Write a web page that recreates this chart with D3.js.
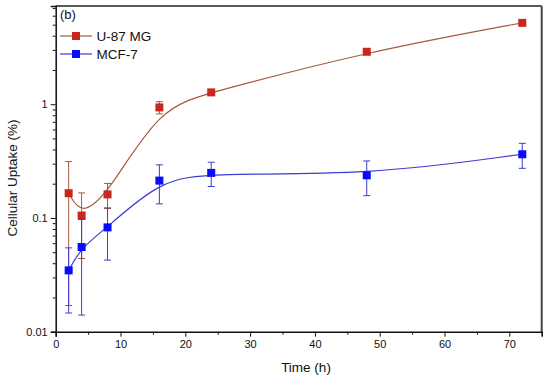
<!DOCTYPE html>
<html>
<head>
<meta charset="utf-8">
<script src="https://cdn.jsdelivr.net/npm/d3@7"></script>
<style>
  body { margin: 0; background: #fff; }
  svg { display: block; font-family: "Liberation Sans", Arial, sans-serif; }
</style>
</head>
<body>
<div id="chart"></div>
<script>
// values
const timeH = [2, 4, 8, 16, 24, 48, 72];
const u87Uptake = [0.165, 0.105, 0.161, 0.937, 1.27, 2.89, 5.19];
const u87Err = [0.148, 0.061, 0.04, 0.115, 0.05, 0.1, 0.2];
const mcf7Uptake = [0.0346, 0.0555, 0.0826, 0.213, 0.249, 0.237, 0.363];
const mcf7Err = [0.02, 0.0415, 0.04, 0.08, 0.06, 0.08, 0.09];

const xMajorTicks = [0, 10, 20, 30, 40, 50, 60, 70];
const xMinorTicks = [5, 15, 25, 35, 45, 55, 65, 75];
const yMajorTicks = [0.01, 0.1, 1];
const yTickLabels = ["0.01", "0.1", "1"];
const yMinorTicks = [0.02, 0.03, 0.04, 0.05, 0.06, 0.07, 0.08, 0.09,
                     0.2, 0.3, 0.4, 0.5, 0.6, 0.7, 0.8, 0.9,
                     2, 3, 4, 5, 6, 7];

const seriesNames = ["U-87 MG", "MCF-7"];

function init() {
    var w = 550, h = 379;
    var left = 55.7, right = 541.7, top = 6, bottom = 331.7;

    var svg = d3.select("#chart").append("svg")
        .attr("width", w)
        .attr("height", h);

    var xScale = d3.scaleLinear().domain([0, 75]).range([left, right]);
    var yScale = d3.scaleLog().domain([0.01, 7.3]).range([bottom, top]);

    var series = [
        { name: seriesNames[0], y: u87Uptake, err: u87Err, fill: "#c8281c", line: "#a8583a" },
        { name: seriesNames[1], y: mcf7Uptake, err: mcf7Err, fill: "#0a0aff", line: "#3c3cd2" }
    ];

    // frame: top and right
    svg.append("line")
        .attr("x1", left).attr("x2", right).attr("y1", top).attr("y2", top)
        .attr("stroke", "#222").attr("stroke-width", 1.3);
    svg.append("line")
        .attr("x1", right).attr("x2", right).attr("y1", top).attr("y2", bottom)
        .attr("stroke", "#444").attr("stroke-width", 2);

    // curves (B-spline in screen space like Origin)
    var line = d3.line()
        .x((d, i) => xScale(timeH[i]))
        .y(d => yScale(d))
        .curve(d3.curveBasis);

    series.forEach(function (s) {
        var g = svg.append("g");
        g.append("path")
            .datum(s.y)
            .attr("d", line)
            .attr("fill", "none")
            .attr("stroke", s.line)
            .attr("stroke-width", 1.2);

        // error bars
        var eb = g.selectAll(".eb")
            .data(s.y)
            .enter()
            .append("g");
        eb.append("line")
            .attr("x1", (d, i) => xScale(timeH[i]))
            .attr("x2", (d, i) => xScale(timeH[i]))
            .attr("y1", (d, i) => yScale(d + s.err[i]))
            .attr("y2", (d, i) => yScale(Math.max(d - s.err[i], 0.0101)))
            .attr("stroke", s.line).attr("stroke-width", 1);
        [1, -1].forEach(function (sign) {
            eb.append("line")
                .attr("x1", (d, i) => xScale(timeH[i]) - 3.5)
                .attr("x2", (d, i) => xScale(timeH[i]) + 3.5)
                .attr("y1", (d, i) => yScale(Math.max(d + sign * s.err[i], 0.0101)))
                .attr("y2", (d, i) => yScale(Math.max(d + sign * s.err[i], 0.0101)))
                .attr("stroke", s.line).attr("stroke-width", 1);
        });

        // markers
        g.selectAll("rect")
            .data(s.y)
            .enter()
            .append("rect")
            .attr("x", (d, i) => xScale(timeH[i]) - 4)
            .attr("y", d => yScale(d) - 4)
            .attr("width", 8)
            .attr("height", 8)
            .attr("fill", s.fill);
    });

    // x axis
    var xAxis = d3.axisBottom(xScale)
        .tickValues(xMajorTicks)
        .tickSize(5)
        .tickPadding(4)
        .tickFormat(d3.format("d"));
    svg.append("g")
        .attr("transform", "translate(0," + bottom + ")")
        .call(xAxis);
    svg.append("g")
        .attr("transform", "translate(0," + bottom + ")")
        .call(d3.axisBottom(xScale).tickValues(xMinorTicks).tickSize(3).tickFormat(""))
        .select(".domain").remove();

    // y axis
    var yAxis = d3.axisLeft(yScale)
        .tickValues(yMajorTicks)
        .tickSize(5)
        .tickPadding(3)
        .tickFormat((d, i) => yTickLabels[i]);
    svg.append("g")
        .attr("transform", "translate(" + left + ",0)")
        .call(yAxis);
    svg.append("g")
        .attr("transform", "translate(" + left + ",0)")
        .call(d3.axisLeft(yScale).tickValues(yMinorTicks).tickSize(3).tickFormat(""))
        .select(".domain").remove();

    svg.selectAll(".domain").attr("stroke", "#111").attr("stroke-width", 1.5);
    svg.selectAll(".tick line").attr("stroke", "#111").attr("stroke-width", 1);
    svg.selectAll(".tick text")
        .style("font-family", "'Liberation Sans', Arial, sans-serif")
        .style("font-size", "11px")
        .attr("fill", "#111");

    // axis titles
    svg.append("text")
        .attr("x", 306)
        .attr("y", 372)
        .attr("text-anchor", "middle")
        .style("font-size", "13.5px")
        .attr("fill", "#111")
        .text("Time (h)");

    svg.append("text")
        .attr("transform", "translate(16.5,178) rotate(-90)")
        .attr("text-anchor", "middle")
        .style("font-size", "13.5px")
        .attr("fill", "#111")
        .text("Cellular Uptake (%)");

    // panel label
    svg.append("text")
        .attr("x", 60)
        .attr("y", 19)
        .style("font-size", "13px")
        .attr("fill", "#111")
        .text("(b)");

    // legend
    var legend = svg.append("g");
    series.forEach(function (s, i) {
        var ly = 36 + i * 18;
        legend.append("line")
            .attr("x1", 60).attr("x2", 92).attr("y1", ly).attr("y2", ly)
            .attr("stroke", s.line).attr("stroke-width", 1.2);
        legend.append("rect")
            .attr("x", 72).attr("y", ly - 4).attr("width", 8).attr("height", 8)
            .attr("fill", s.fill);
        legend.append("text")
            .attr("x", 96.5)
            .attr("y", ly + 5)
            .style("font-size", "13.5px")
            .attr("fill", "#111")
            .text(s.name);
    });
}

window.onload = init;
</script>
</body>
</html>
